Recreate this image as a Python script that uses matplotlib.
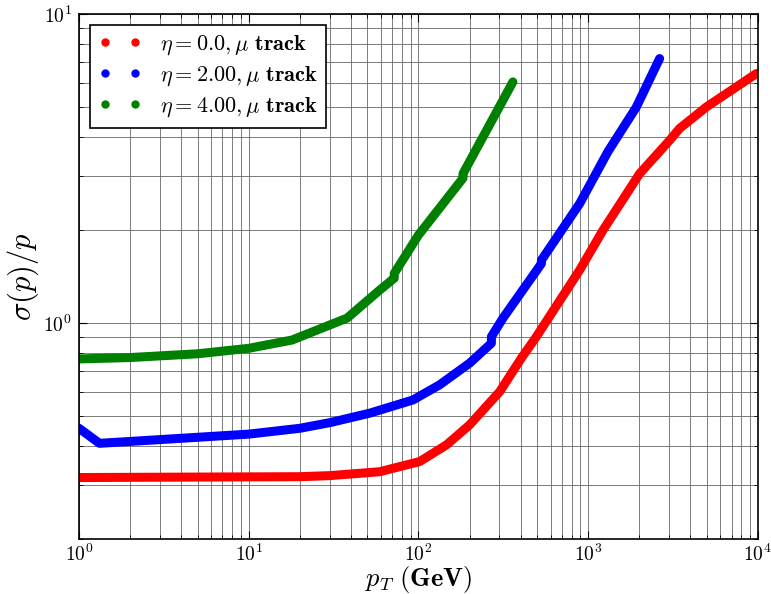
import matplotlib
matplotlib.use('Agg')
import matplotlib.pyplot as plt
from matplotlib.lines import Line2D

plt.rcParams['mathtext.fontset'] = 'cm'
plt.rcParams['font.family'] = 'serif'
plt.rcParams['font.serif'] = ['cmr10', 'DejaVu Serif']
plt.rcParams['axes.formatter.use_mathtext'] = True

# values
pt_eta0 = [1, 20, 30, 59, 101.6, 146, 200, 301, 403, 495, 891, 1222, 2010, 3020, 3456, 4965, 9800]
res_eta0 = [0.317, 0.319, 0.3215, 0.331, 0.357, 0.404, 0.469, 0.601, 0.77, 0.905, 1.487, 2.0, 3.05, 3.91, 4.27, 5.01, 6.43]

pt_eta2 = [1, 1.32, 10, 20, 30, 51.6, 92.8, 133, 200, 269, 269, 315, 530, 530, 891, 1306, 1923, 2636]
res_eta2 = [0.4575, 0.409, 0.438, 0.4575, 0.477, 0.512, 0.565, 0.632, 0.743, 0.862, 0.905, 1.04, 1.56, 1.6, 2.44, 3.59, 5.01, 7.19]

pt_eta4 = [1, 2, 5, 10, 18, 38, 59, 72, 72, 100, 183, 183, 360]
res_eta4 = [0.767, 0.775, 0.797, 0.83, 0.883, 1.04, 1.28, 1.40, 1.45, 1.93, 2.95, 3.05, 6.04]

labels = [r'$\eta = 0.0, \mu\ \mathbf{track}$',
          r'$\eta = 2.00, \mu\ \mathbf{track}$',
          r'$\eta = 4.00, \mu\ \mathbf{track}$']
colors = ['red', 'blue', 'green']

fig = plt.figure(figsize=(7.71, 5.94), dpi=100)
ax = fig.add_axes([0.1025, 0.092, 0.8805, 0.884])

for x, y, c in zip([pt_eta0, pt_eta2, pt_eta4], [res_eta0, res_eta2, res_eta4], colors):
    ax.plot(x, y, color=c, lw=6.5, solid_capstyle='round', solid_joinstyle='round')

ax.set_xscale('log')
ax.set_yscale('log')
ax.set_xlim(1, 1e4)
ax.set_ylim(0.2, 10)
ax.grid(True, which='major', color='0.4', lw=0.6)
ax.grid(True, which='minor', color='0.4', lw=0.6)
ax.tick_params(which='both', direction='in', top=True, right=True, labelsize=14)
ax.tick_params(axis='x', pad=3)
ax.tick_params(axis='y', pad=5)
ax.tick_params(which='major', length=6)
ax.tick_params(which='minor', length=3)
ax.yaxis.set_minor_formatter(matplotlib.ticker.NullFormatter())
for s in ax.spines.values():
    s.set_linewidth(1.2)

ax.set_xlabel(r'$p_T\ \mathbf{(GeV)}$', fontsize=19, labelpad=-1)
ax.set_ylabel(r'$\sigma(p)/p$', fontsize=22, labelpad=2)

handles = [Line2D([], [], color=c, marker='o', ls='none', ms=5) for c in colors]
leg = ax.legend(handles, labels, loc='upper left', numpoints=2, fontsize=16,
                fancybox=False, framealpha=1, edgecolor='black',
                handlelength=1.95, handletextpad=0.8, borderpad=0.4,
                labelspacing=0.32, borderaxespad=0.48)
leg.get_frame().set_linewidth(1.2)

plt.savefig('out.png', dpi=100)
